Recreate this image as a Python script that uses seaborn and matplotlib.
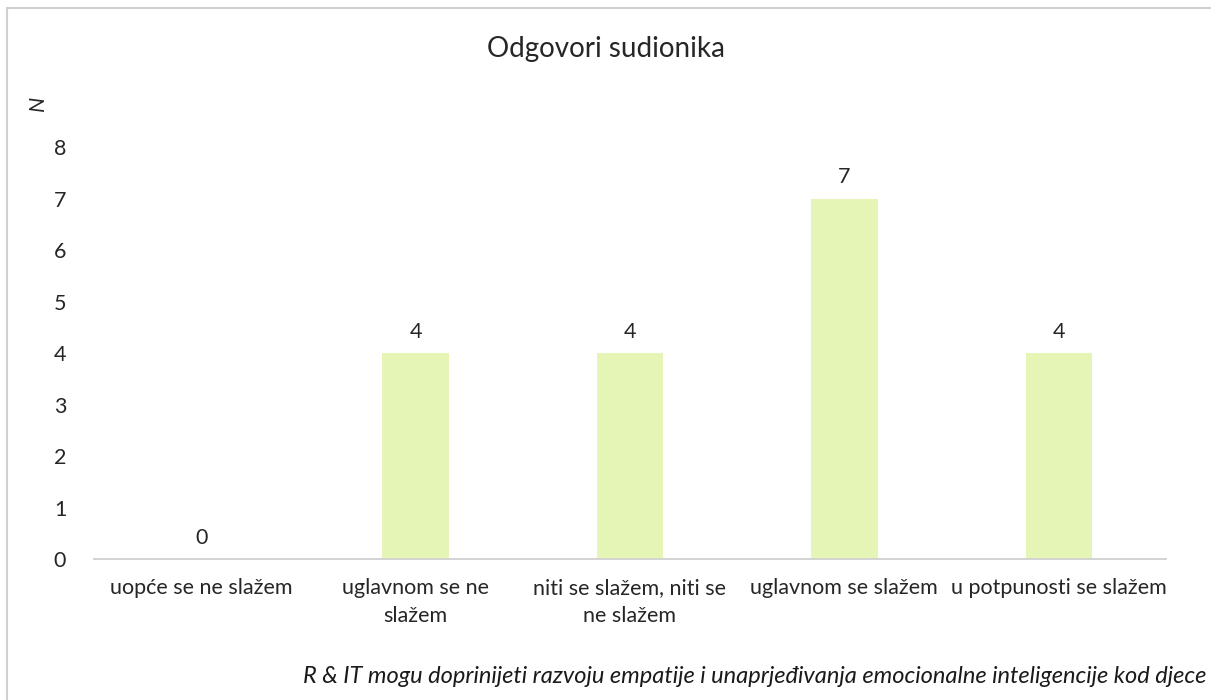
import matplotlib
matplotlib.use("Agg")
import matplotlib.pyplot as plt
import seaborn as sns
import pandas as pd
from matplotlib.patches import Rectangle

categories = ["uopće se ne slažem", "uglavnom se ne\nslažem", "niti se slažem, niti se\nne slažem",
              "uglavnom se slažem", "u potpunosti se slažem"]
values = [0, 4, 4, 7, 4]
yticks = [0, 1, 2, 3, 4, 5, 6, 7, 8]

sns.set_theme(style="white")
plt.rcParams['font.family'] = ['Lato', 'DejaVu Sans']

df = pd.DataFrame({"cat": categories, "n": values})

fig = plt.figure(figsize=(12.11, 7.0), dpi=100)
ax = fig.add_axes([0.0776, 0.2014, 0.8852, 0.5886])
sns.barplot(data=df, x="cat", y="n", color="#E5F5B5", width=0.31, ax=ax, saturation=1)
for p in ax.patches:
    p.set_edgecolor("none")

ax.set_ylim(0, 8)
ax.set_yticks(yticks)
ax.set_xlim(-0.5, len(categories) - 0.5)
for s in ["top", "right", "left"]:
    ax.spines[s].set_visible(False)
ax.spines["bottom"].set_color("#D0D0D0")
ax.spines["bottom"].set_linewidth(1.3)
ax.tick_params(axis="both", length=0, labelsize=15.5, colors="#262626")
ax.tick_params(axis="y", pad=20)
ax.tick_params(axis="x", pad=14)
for lbl in ax.get_xticklabels():
    lbl.set_linespacing(1.45)
ax.set_xlabel("")
ax.set_ylabel("")

for i, v in enumerate(values):
    ax.annotate(str(v), (i, v), xytext=(0, 8), textcoords="offset points",
                ha="center", va="bottom", fontsize=15.5, color="#262626")

fig.text(0.5, 0.93, "Odgovori sudionika", ha="center", va="center", fontsize=20, color="#262626")
fig.text(0.031, 0.853, "N", rotation=90, ha="center", va="center", fontsize=15.5,
         style="italic", color="#262626")
fig.text(0.996, 0.033, "R & IT mogu doprinijeti razvoju empatije i unaprjeđivanja emocionalne inteligencije kod djece",
         ha="right", va="center", fontsize=17, style="italic", color="#1a1a1a")

fig.add_artist(Rectangle((7 / 1211, -0.05), 1.1, 1 - 8 / 700 + 0.05, transform=fig.transFigure,
                         fill=False, edgecolor="#D0D0D0", linewidth=1.5))

fig.savefig("out.png", dpi=100)
